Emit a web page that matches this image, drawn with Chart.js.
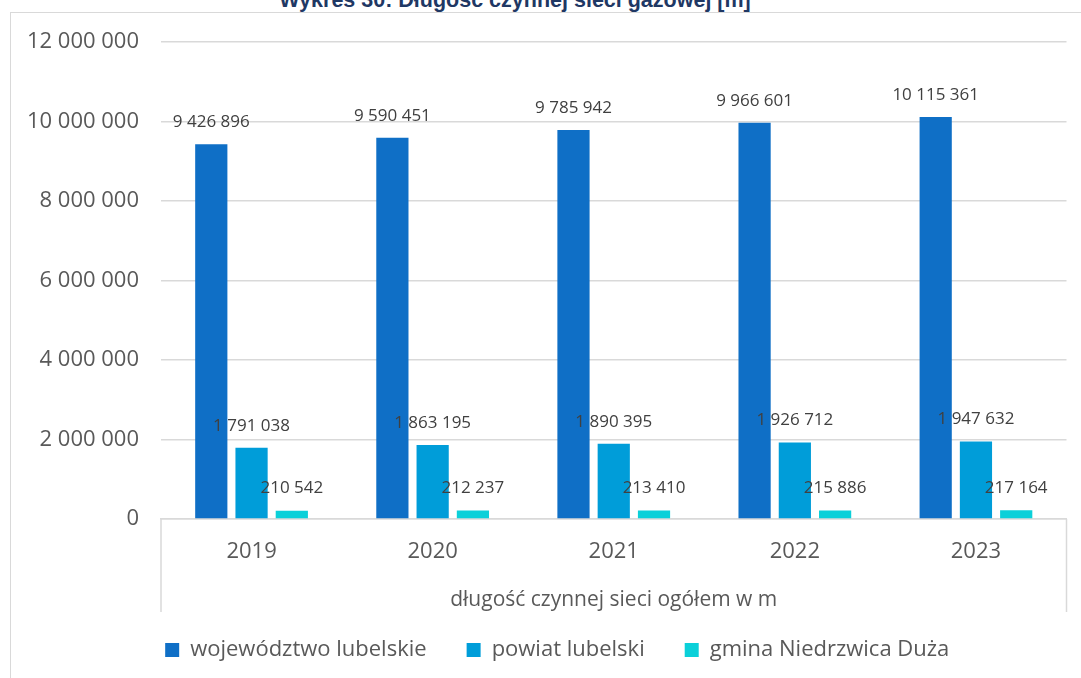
<!DOCTYPE html>
<html>
<head>
<meta charset="utf-8">
<script src="https://cdn.jsdelivr.net/npm/chart.js@4/dist/chart.umd.min.js"></script>
<style>
  html, body { margin: 0; padding: 0; background: #fff; overflow: hidden; width: 1081px; height: 678px; }
  #frame { position: absolute; left: 10px; top: 12px; width: 1200px; height: 800px;
           border-left: 1.5px solid #d9d9d9; border-top: 1.5px solid #d9d9d9; }
  #title { position: absolute; left: 0; width: 1030px; top: -10px; text-align: center;
           font: bold 21.5px/20px "Liberation Sans", Arial, sans-serif; color: #1f3864; white-space: nowrap; }
  #wrap { position: absolute; left: 0; top: 0; width: 1158px; height: 678px; }
</style>
</head>
<body>
<div id="frame"></div>
<div id="title">Wykres 30: Długość czynnej sieci gazowej [m]</div>
<div id="wrap"><canvas id="myChart"></canvas></div>
<script>
const years = ['2019', '2020', '2021', '2022', '2023'];
const wojewodztwo = [9426896, 9590451, 9785942, 9966601, 10115361];
const powiat = [1791038, 1863195, 1890395, 1926712, 1947632];
const gmina = [210542, 212237, 213410, 215886, 217164];
const seriesNames = ['województwo lubelskie', 'powiat lubelski', 'gmina Niedrzwica Duża'];
const axisTitle = 'długość czynnej sieci ogółem w m';

const colors = ['#0f6fc6', '#009dd9', '#0bd0d9'];
const font = '"Open Sans", sans-serif';

// 9426896 -> "9 426 896"
function fmt(v) {
  return String(v).replace(/\B(?=(\d{3})+(?!\d))/g, ' ');
}

// etykiety wartości nad słupkami
const valueLabels = {
  id: 'valueLabels',
  afterDatasetsDraw(chart) {
    const ctx = chart.ctx;
    ctx.save();
    ctx.font = '17px ' + font;
    ctx.fillStyle = '#404040';
    ctx.textAlign = 'center';
    ctx.textBaseline = 'middle';
    chart.data.datasets.forEach((ds, i) => {
      chart.getDatasetMeta(i).data.forEach((bar, j) => {
        ctx.fillText(fmt(ds.data[j]), bar.x, bar.y - 22);
      });
    });
    ctx.restore();
  }
};

// pionowe linie na brzegach osi kategorii + legenda przesunięta w prawo jak w Excelu
const edgeLines = {
  id: 'edgeLines',
  afterLayout(chart) {
    chart.legend.left += 24;
    chart.legend.right += 24;
  },
  afterDraw(chart) {
    const {ctx, chartArea} = chart;
    ctx.save();
    ctx.strokeStyle = '#d9d9d9';
    ctx.lineWidth = 1.5;
    ctx.beginPath();
    [chartArea.left, chartArea.right].forEach(x => {
      ctx.moveTo(x, chartArea.bottom);
      ctx.lineTo(x, chartArea.bottom + 93);
    });
    ctx.stroke();
    ctx.restore();
  }
};

const ctx = document.getElementById('myChart');

new Chart(ctx, {
  type: 'bar',
  data: {
    labels: years,
    datasets: [
      { label: seriesNames[0], data: wojewodztwo, backgroundColor: colors[0] },
      { label: seriesNames[1], data: powiat, backgroundColor: colors[1] },
      { label: seriesNames[2], data: gmina, backgroundColor: colors[2] }
    ]
  },
  options: {
    responsive: true,
    maintainAspectRatio: false,
    animation: false,
    categoryPercentage: 0.667,
    barPercentage: 0.8,
    layout: { padding: { left: 0, right: 91.5, top: 42, bottom: 7 } },
    scales: {
      x: {
        grid: { display: false },
        border: { color: '#d9d9d9', width: 1.5 },
        ticks: { color: '#595959', font: { size: 22, family: font }, padding: 12 },
        title: {
          display: true,
          text: axisTitle,
          color: '#595959',
          font: { size: 21, family: font },
          padding: { top: 0, bottom: -14 }
        },
        afterFit(scale) { scale.height = 80; }
      },
      y: {
        min: 0,
        max: 12000000,
        ticks: {
          stepSize: 2000000,
          color: '#595959',
          font: { size: 22, family: font },
          padding: 22,
          callback: v => fmt(v)
        },
        grid: { color: '#d9d9d9', lineWidth: 1.5, drawTicks: false },
        border: { display: false },
        afterFit(scale) { scale.width = 161; }
      }
    },
    plugins: {
      legend: {
        display: true,
        position: 'bottom',
        labels: {
          color: '#595959',
          font: { size: 22, family: font },
          boxWidth: 14,
          boxHeight: 14,
          padding: 40
        }
      },
      tooltip: { enabled: false }
    }
  },
  plugins: [valueLabels, edgeLines]
});
</script>
</body>
</html>
